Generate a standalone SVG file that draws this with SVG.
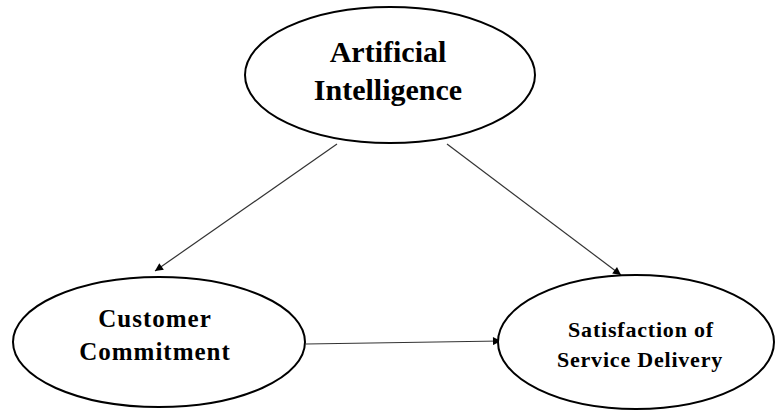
<svg xmlns="http://www.w3.org/2000/svg" width="775" height="410" viewBox="0 0 775 410">
<style>
.node{fill:#fff;stroke:#000;stroke-width:2}
.lbl{font-family:"Liberation Serif","Times New Roman",serif;font-weight:bold;fill:#000;text-anchor:middle}
.edge{stroke:#333;stroke-width:1.2;fill:none;marker-end:url(#ah)}
</style>
<defs>
<marker id="ah" viewBox="0 0 10 10" refX="10" refY="5" markerWidth="10" markerHeight="8" markerUnits="userSpaceOnUse" orient="auto">
<path d="M0,0 L10,5 L0,10 z" fill="#000"/>
</marker>
</defs>
<rect width="775" height="410" fill="#fff"/>
<g id="connectors">
<line class="edge" x1="337" y1="144" x2="155" y2="271"/>
<line class="edge" x1="447" y1="144" x2="621" y2="275"/>
<line class="edge" x1="306" y1="344" x2="501" y2="341"/>
</g>
<g id="ai">
<ellipse class="node" cx="390" cy="75" rx="145" ry="68"/>
<text class="lbl" x="388" y="62" font-size="30">Artificial</text>
<text class="lbl" x="388" y="100" font-size="30">Intelligence</text>
</g>
<g id="cc">
<ellipse class="node" cx="159" cy="342" rx="146" ry="65"/>
<text class="lbl" x="155" y="327" font-size="25" letter-spacing="1">Customer</text>
<text class="lbl" x="155" y="360" font-size="25" letter-spacing="1">Commitment</text>
</g>
<g id="ssd">
<ellipse class="node" cx="636" cy="342" rx="138" ry="67"/>
<text class="lbl" x="641" y="337" font-size="22" letter-spacing="0.8">Satisfaction of</text>
<text class="lbl" x="640" y="367" font-size="22" letter-spacing="0.8">Service Delivery</text>
</g>
</svg>
